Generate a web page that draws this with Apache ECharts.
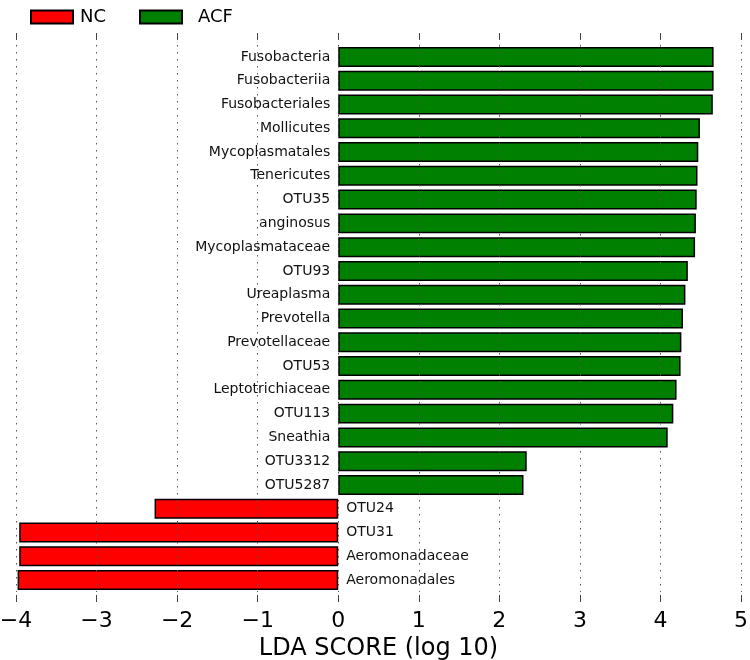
<!DOCTYPE html>
<html>
<head>
<meta charset="utf-8">
<script src="https://cdn.jsdelivr.net/npm/echarts@6/dist/echarts.min.js"></script>
<style>html,body{margin:0;padding:0;background:#fff}#c{width:750px;height:660px}</style>
</head>
<body>
<div id="c"></div>
<script>
const categories = ["Fusobacteria","Fusobacteriia","Fusobacteriales","Mollicutes","Mycoplasmatales","Tenericutes","OTU35","anginosus","Mycoplasmataceae","OTU93","Ureaplasma","Prevotella","Prevotellaceae","OTU53","Leptotrichiaceae","OTU113","Sneathia","OTU3312","OTU5287","OTU24","OTU31","Aeromonadaceae","Aeromonadales"];
const groups = ["ACF","ACF","ACF","ACF","ACF","ACF","ACF","ACF","ACF","ACF","ACF","ACF","ACF","ACF","ACF","ACF","ACF","ACF","ACF","NC","NC","NC","NC"];
const ldaScores = [4.66,4.66,4.65,4.49,4.47,4.46,4.45,4.44,4.43,4.34,4.31,4.28,4.26,4.25,4.20,4.16,4.09,2.34,2.30,-2.28,-3.96,-3.96,-3.98];
const xTicks = [-4,-3,-2,-1,0,1,2,3,4,5];

const FONT = "DejaVu Sans";
const ncData = ldaScores.map((v,i)=> groups[i]==="NC" ? v : "-");
const acfData = ldaScores.map((v,i)=> groups[i]==="ACF" ? v : "-");
const fmt = v => v < 0 ? "\u2212" + Math.abs(v) : String(v);

const chart = echarts.init(document.getElementById('c'), null, {renderer:'canvas'});
const xCommon = {
  type:'value', min:xTicks[0], max:xTicks[xTicks.length-1], interval:1,
  axisLine:{show:false}
};
chart.setOption({
  animation:false,
  backgroundColor:'#fff',
  textStyle:{fontFamily:FONT},
  legend:[
    {data:['NC'], left:25, top:3, icon:'rect', itemWidth:42, itemHeight:13, itemGap:0,
     itemStyle:{borderColor:'#000', borderWidth:2},
     textStyle:{fontFamily:FONT, fontSize:18, color:'#000', padding:[0,0,0,2]}},
    {data:['ACF'], left:134, top:3, icon:'rect', itemWidth:42, itemHeight:13, itemGap:0,
     itemStyle:{borderColor:'#000', borderWidth:2},
     textStyle:{fontFamily:FONT, fontSize:18, color:'#000', padding:[0,0,0,11]}}
  ],
  grid:{left:16, right:9, top:45, bottom:68, containLabel:false, outerBoundsMode:'none'},
  xAxis:[
    Object.assign({}, xCommon, {
      position:'bottom', offset:10, z:10,
      axisTick:{show:true, inside:true, length:7, lineStyle:{color:'#444'}},
      axisLabel:{formatter:fmt, fontSize:22, color:'#000', fontFamily:FONT, margin:8},
      splitLine:{show:true, lineStyle:{color:'#555', type:[1.5,5.5], width:1}},
      name:'LDA SCORE (log 10)', nameLocation:'middle', nameGap:35,
      nameTextStyle:{fontSize:24, color:'#000', fontFamily:FONT}
    }),
    Object.assign({}, xCommon, {
      position:'top', offset:12,
      axisTick:{show:true, inside:true, length:7, lineStyle:{color:'#444'}},
      axisLabel:{show:false}, splitLine:{show:false}
    })
  ],
  yAxis:{
    type:'category', data:categories, inverse:true,
    axisLine:{show:false}, axisTick:{show:false}, axisLabel:{show:false}, splitLine:{show:false}
  },
  series:[
    {name:'NC', type:'bar', stack:'s', data:ncData, barCategoryGap:'16%',
     itemStyle:{color:'#ff0000', borderColor:'#000', borderWidth:1.5},
     label:{show:true, position:'right', distance:8, formatter:'{b}', fontSize:14, color:'#111', fontFamily:FONT}},
    {name:'ACF', type:'bar', stack:'s', data:acfData, barCategoryGap:'16%',
     itemStyle:{color:'#008000', borderColor:'#000', borderWidth:1.5},
     label:{show:true, position:'left', distance:8, formatter:'{b}', fontSize:14, color:'#111', fontFamily:FONT}}
  ]
});
</script>
</body>
</html>
